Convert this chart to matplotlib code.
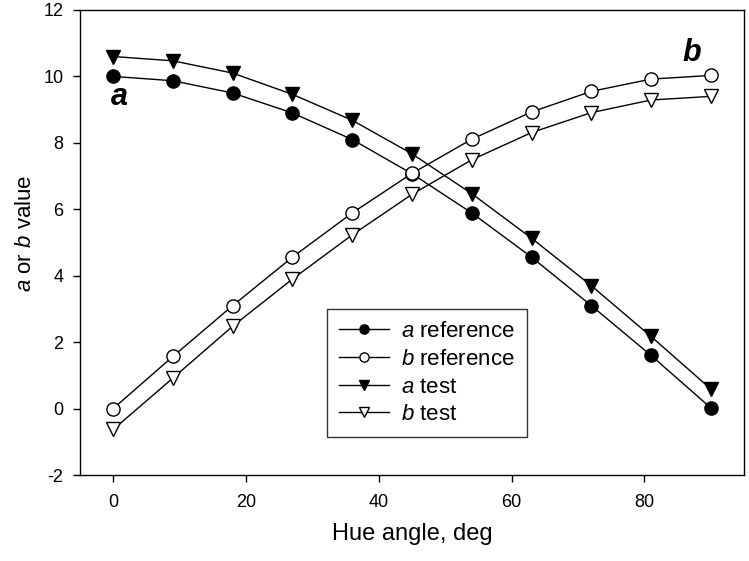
import matplotlib
matplotlib.use('Agg')
import matplotlib.pyplot as plt

plt.rcParams['font.family'] = ['Liberation Sans', 'DejaVu Sans']
plt.rcParams['mathtext.fontset'] = 'custom'
plt.rcParams['mathtext.rm'] = 'Liberation Sans'
plt.rcParams['mathtext.it'] = 'Liberation Sans:italic'
plt.rcParams['mathtext.bf'] = 'Liberation Sans:bold'
plt.rcParams['axes.unicode_minus'] = False

# hue angle, deg
hue = [0, 9, 18, 27, 36, 45, 54, 63, 72, 81, 90]
a_ref = [10.0, 9.87, 9.50, 8.90, 8.10, 7.07, 5.89, 4.56, 3.10, 1.60, 0.02]
b_ref = [0.0, 1.57, 3.10, 4.56, 5.89, 7.08, 8.11, 8.93, 9.55, 9.92, 10.03]
a_test = [10.60, 10.47, 10.10, 9.46, 8.68, 7.67, 6.47, 5.13, 3.70, 2.17, 0.59]
b_test = [-0.63, 0.92, 2.48, 3.90, 5.23, 6.45, 7.49, 8.31, 8.91, 9.29, 9.40]

fig = plt.figure(figsize=(7.49, 5.61), dpi=100)
ax = fig.add_axes([80/749, 1 - 475/561, 664/749, 465/561])

kw = dict(color='black', lw=1.0, ms=9.5, mec='black', mew=1.0)
ax.plot(hue, a_ref, marker='o', mfc='black', label=r'$a$ reference', **kw)
ax.plot(hue, b_ref, marker='o', mfc='white', label=r'$b$ reference', **kw)
ax.plot(hue, a_test, marker='v', mfc='black', label=r'$a$ test', **kw)
ax.plot(hue, b_test, marker='v', mfc='white', label=r'$b$ test', **kw)

ax.text(0.9, 9.38, 'a', fontsize=22, fontweight='bold', fontstyle='italic',
        ha='center', va='center')
ax.text(87.2, 10.7, 'b', fontsize=22, fontweight='bold', fontstyle='italic',
        ha='center', va='center')

ax.set_xlim(-5, 95)
ax.set_ylim(-2, 12)
ax.set_xticks([0, 20, 40, 60, 80])
ax.set_yticks(range(-2, 13, 2))
ax.tick_params(direction='out', length=5, width=1, labelsize=13, pad=7)
ax.tick_params(axis='x', pad=9)
for s in ax.spines.values():
    s.set_linewidth(1.0)

ax.set_xlabel('Hue angle, deg', fontsize=17, labelpad=8)
ax.set_ylabel(r'$a$ or $b$ value', fontsize=16)
ax.yaxis.set_label_coords(-0.067, 0.52)

leg = ax.legend(loc='upper left', bbox_to_anchor=((327 - 80) / 664, (475 - 309) / 465),
                fontsize=16, frameon=True, fancybox=False, handlelength=2.25,
                handletextpad=0.55, borderpad=0.55, labelspacing=0.3,
                borderaxespad=0, markerscale=0.7)
leg.get_frame().set_edgecolor('black')
leg.get_frame().set_linewidth(1.0)

fig.savefig('out.png', dpi=100)
